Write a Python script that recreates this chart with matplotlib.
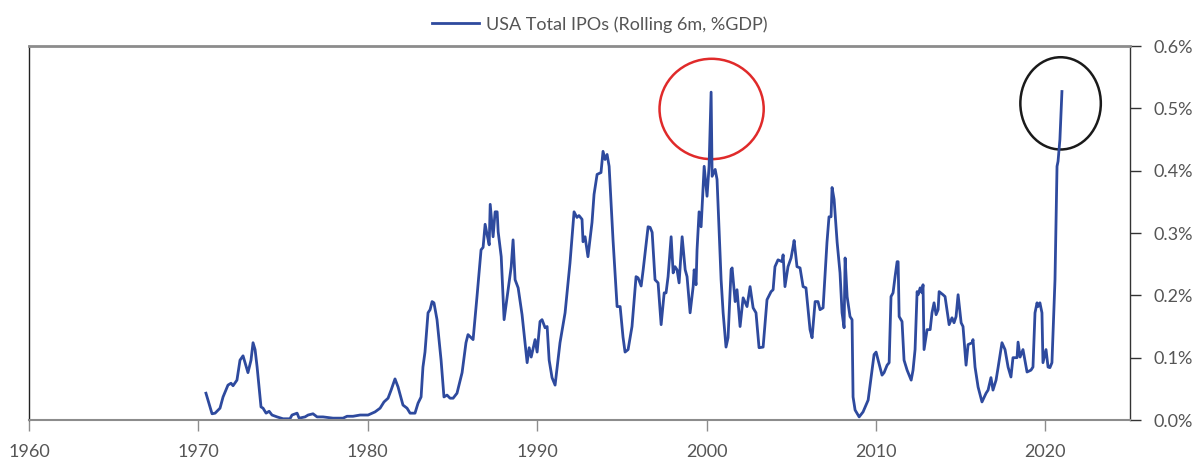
"""
plot.py
=======
USA total IPOs, rolling 6m sum as % of GDP, with the 2000 and 2021 peaks circled.
Writes out.png (1200x461).
"""

import matplotlib
matplotlib.use("Agg")
import matplotlib.pyplot as plt  # noqa: E402
from matplotlib.patches import Ellipse  # noqa: E402

plt.rcParams["font.family"] = ["Lato", "DejaVu Sans"]

# --- data ---------------------------------------------------------------
years = [
    1970.45, 1970.81, 1970.99, 1971.28, 1971.46, 1971.75, 1971.93, 1972.05, 1972.28, 1972.46,
    1972.64, 1972.76, 1972.93, 1973.11, 1973.23, 1973.35, 1973.47, 1973.70, 1973.82, 1974.00,
    1974.18, 1974.35, 1974.65, 1975.00, 1975.41, 1975.53, 1975.83, 1975.95, 1976.30, 1976.48,
    1976.77, 1977.01, 1977.36, 1977.95, 1978.54, 1978.78, 1979.13, 1979.55, 1980.02, 1980.43,
    1980.73, 1980.96, 1981.20, 1981.38, 1981.61, 1981.79, 1982.08, 1982.32, 1982.50, 1982.79,
    1982.97, 1983.15, 1983.26, 1983.38, 1983.56, 1983.68, 1983.80, 1983.91, 1984.09, 1984.33,
    1984.50, 1984.68, 1984.86, 1985.04, 1985.27, 1985.57, 1985.80, 1985.92, 1986.22, 1986.45,
    1986.69, 1986.81, 1986.93, 1987.05, 1987.17, 1987.23, 1987.40, 1987.52, 1987.64, 1987.70,
    1987.88, 1988.05, 1988.23, 1988.47, 1988.58, 1988.70, 1988.88, 1989.11, 1989.41, 1989.53,
    1989.65, 1989.88, 1990.00, 1990.17, 1990.29, 1990.47, 1990.59, 1990.71, 1990.88, 1991.06,
    1991.35, 1991.65, 1991.94, 1992.18, 1992.35, 1992.47, 1992.65, 1992.71, 1992.83, 1993.00,
    1993.24, 1993.36, 1993.54, 1993.77, 1993.89, 1994.01, 1994.13, 1994.25, 1994.48, 1994.72,
    1994.90, 1995.07, 1995.19, 1995.37, 1995.60, 1995.84, 1995.96, 1996.14, 1996.26, 1996.55,
    1996.67, 1996.79, 1996.96, 1997.14, 1997.32, 1997.50, 1997.61, 1997.73, 1997.91, 1998.03,
    1998.14, 1998.26, 1998.38, 1998.56, 1998.74, 1998.85, 1999.03, 1999.21, 1999.27, 1999.38,
    1999.44, 1999.56, 1999.68, 1999.86, 2000.03, 2000.15, 2000.27, 2000.33, 2000.51, 2000.62,
    2000.86, 2000.98, 2001.15, 2001.27, 2001.45, 2001.51, 2001.69, 2001.80, 2001.98, 2002.16,
    2002.39, 2002.57, 2002.75, 2002.92, 2003.10, 2003.34, 2003.57, 2003.81, 2003.93, 2004.04,
    2004.22, 2004.46, 2004.52, 2004.63, 2004.81, 2004.99, 2005.11, 2005.17, 2005.34, 2005.52,
    2005.70, 2005.87, 2006.11, 2006.23, 2006.41, 2006.58, 2006.70, 2006.88, 2007.11, 2007.23,
    2007.35, 2007.41, 2007.53, 2007.71, 2007.88, 2008.00, 2008.12, 2008.18, 2008.30, 2008.47,
    2008.59, 2008.65, 2008.77, 2009.01, 2009.24, 2009.54, 2009.77, 2009.89, 2010.01, 2010.13,
    2010.36, 2010.48, 2010.66, 2010.78, 2010.89, 2011.01, 2011.13, 2011.25, 2011.31, 2011.37,
    2011.54, 2011.66, 2011.84, 2012.08, 2012.19, 2012.31, 2012.43, 2012.49, 2012.61, 2012.72,
    2012.78, 2012.84, 2013.02, 2013.20, 2013.31, 2013.43, 2013.55, 2013.67, 2013.73, 2013.96,
    2014.08, 2014.32, 2014.49, 2014.61, 2014.73, 2014.85, 2015.03, 2015.14, 2015.32, 2015.44,
    2015.68, 2015.73, 2015.85, 2016.03, 2016.26, 2016.50, 2016.62, 2016.79, 2016.91, 2017.09,
    2017.21, 2017.44, 2017.62, 2017.80, 2017.97, 2018.09, 2018.33, 2018.39, 2018.51, 2018.68,
    2018.92, 2019.15, 2019.27, 2019.39, 2019.51, 2019.57, 2019.68, 2019.80, 2019.86, 2020.04,
    2020.16, 2020.27, 2020.39, 2020.57, 2020.69, 2020.75, 2020.86, 2020.98,
]
ipo_pct_gdp = [
    0.043, 0.010, 0.011, 0.019, 0.037, 0.056, 0.059, 0.055, 0.064, 0.096,
    0.103, 0.092, 0.076, 0.096, 0.124, 0.113, 0.085, 0.021, 0.019, 0.011,
    0.014, 0.008, 0.005, 0.002, 0.002, 0.008, 0.011, 0.003, 0.005, 0.008,
    0.010, 0.005, 0.005, 0.003, 0.003, 0.006, 0.006, 0.008, 0.008, 0.013,
    0.019, 0.029, 0.035, 0.048, 0.066, 0.053, 0.024, 0.019, 0.011, 0.011,
    0.027, 0.037, 0.085, 0.109, 0.172, 0.177, 0.190, 0.188, 0.161, 0.096,
    0.037, 0.040, 0.035, 0.035, 0.043, 0.076, 0.124, 0.137, 0.129, 0.198,
    0.273, 0.277, 0.314, 0.297, 0.281, 0.346, 0.294, 0.334, 0.334, 0.302,
    0.262, 0.161, 0.198, 0.246, 0.289, 0.225, 0.212, 0.169, 0.092, 0.116,
    0.101, 0.129, 0.109, 0.158, 0.161, 0.148, 0.150, 0.096, 0.068, 0.056,
    0.124, 0.172, 0.252, 0.334, 0.325, 0.328, 0.322, 0.286, 0.294, 0.262,
    0.317, 0.362, 0.394, 0.397, 0.431, 0.418, 0.426, 0.407, 0.289, 0.182,
    0.182, 0.133, 0.109, 0.113, 0.150, 0.230, 0.228, 0.215, 0.241, 0.310,
    0.309, 0.301, 0.225, 0.220, 0.153, 0.204, 0.204, 0.230, 0.294, 0.236,
    0.246, 0.241, 0.220, 0.294, 0.241, 0.230, 0.172, 0.214, 0.241, 0.217,
    0.273, 0.334, 0.310, 0.407, 0.359, 0.407, 0.526, 0.391, 0.402, 0.386,
    0.225, 0.172, 0.117, 0.132, 0.241, 0.244, 0.190, 0.209, 0.150, 0.196,
    0.182, 0.214, 0.180, 0.172, 0.116, 0.117, 0.193, 0.206, 0.209, 0.246,
    0.257, 0.254, 0.265, 0.214, 0.246, 0.260, 0.278, 0.288, 0.246, 0.244,
    0.214, 0.212, 0.145, 0.132, 0.190, 0.190, 0.177, 0.180, 0.285, 0.326,
    0.326, 0.373, 0.354, 0.285, 0.236, 0.172, 0.148, 0.260, 0.198, 0.166,
    0.161, 0.037, 0.016, 0.005, 0.013, 0.032, 0.080, 0.105, 0.109, 0.096,
    0.072, 0.076, 0.088, 0.092, 0.198, 0.204, 0.230, 0.254, 0.254, 0.166,
    0.158, 0.096, 0.080, 0.064, 0.080, 0.113, 0.206, 0.201, 0.212, 0.204,
    0.217, 0.113, 0.145, 0.145, 0.172, 0.188, 0.169, 0.177, 0.206, 0.201,
    0.198, 0.153, 0.164, 0.156, 0.166, 0.201, 0.156, 0.150, 0.088, 0.121,
    0.124, 0.129, 0.085, 0.053, 0.029, 0.043, 0.048, 0.068, 0.048, 0.064,
    0.084, 0.124, 0.113, 0.085, 0.069, 0.100, 0.100, 0.125, 0.101, 0.113,
    0.077, 0.080, 0.085, 0.172, 0.188, 0.182, 0.188, 0.172, 0.092, 0.113,
    0.085, 0.084, 0.092, 0.225, 0.407, 0.415, 0.450, 0.527,
]
series_label = "USA Total IPOs (Rolling 6m, %GDP)"
x_ticks = [1960, 1970, 1980, 1990, 2000, 2010, 2020]
y_ticks = [0.0, 0.1, 0.2, 0.3, 0.4, 0.5, 0.6]

LINE_BLUE = "#2e4a9e"
TICK_GREY = "#555555"

# --- figure ---------------------------------------------------------------
fig = plt.figure(figsize=(12, 4.61), dpi=100)
ax = fig.add_axes([0.0241, 0.0889, 0.9176, 0.8113])

ax.plot(years, ipo_pct_gdp, color=LINE_BLUE, lw=2.0, label=series_label)

# highlight circles around the two peaks
ax.add_patch(Ellipse((2000.3, 0.499), 6.15, 0.161, fill=False,
                     edgecolor="#e02a2a", lw=1.8))
ax.add_patch(Ellipse((2020.9, 0.508), 4.75, 0.148, fill=False,
                     edgecolor="#1a1a1a", lw=1.8))

ax.set_xlim(1960, 2025)
ax.set_ylim(0, 0.6)
ax.set_xticks(x_ticks)
ax.set_yticks(y_ticks)
ax.set_yticklabels([f"{v:.1f}%" for v in y_ticks])

ax.yaxis.tick_right()
ax.tick_params(axis="y", direction="out", length=8, width=1.0, color="#333333",
               labelsize=13, labelcolor=TICK_GREY, pad=9)
ax.tick_params(axis="x", direction="out", length=8, width=1.0, color="#8c8c8c",
               labelsize=13, labelcolor=TICK_GREY, pad=9)

ax.spines["left"].set_color("#222222")
ax.spines["left"].set_linewidth(1.0)
ax.spines["right"].set_color("#333333")
ax.spines["right"].set_linewidth(1.0)
ax.spines["top"].set_color("#8c8c8c")
ax.spines["top"].set_linewidth(2.0)
ax.spines["bottom"].set_color("#8c8c8c")
ax.spines["bottom"].set_linewidth(1.5)

leg = fig.legend(loc="upper center", bbox_to_anchor=(0.5, 1.0), frameon=False,
                 fontsize=13, handlelength=2.6, handletextpad=0.4)
for txt in leg.get_texts():
    txt.set_color(TICK_GREY)

fig.savefig("out.png", dpi=100)
plt.close(fig)
